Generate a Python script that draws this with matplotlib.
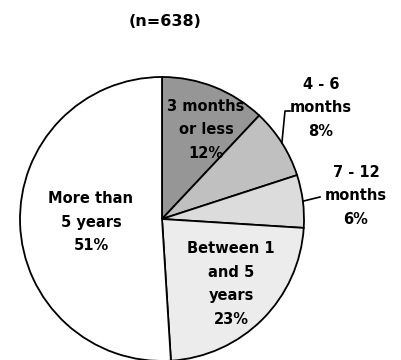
import numpy as np
import matplotlib.pyplot as plt

plt.rcParams['font.family'] = ['DejaVu Sans']

# Time categories, clockwise from 12 o'clock
labels = ['3 months\nor less', '4 - 6\nmonths', '7 - 12\nmonths',
          'Between 1\nand 5\nyears', 'More than\n5 years']
shares = [12, 8, 6, 23, 51]
colors = ['#969696', '#c0c0c0', '#dcdcdc', '#ececec', '#ffffff']
title = '(n=638)'

W, H = 402, 360
fig = plt.figure(figsize=(W / 100, H / 100), dpi=100)

# pie centre (px) and radius (px)
cx, cy, r = 162, 219, 142
ax = fig.add_axes([(cx - r) / W, 1 - (cy + r) / H, 2 * r / W, 2 * r / H])

wedges, _ = ax.pie(shares, colors=colors, startangle=90, counterclock=False,
                   radius=1.0,
                   wedgeprops=dict(edgecolor='black', linewidth=1.3))
for w in wedges:
    w.set_clip_on(False)
ax.set_xlim(-1, 1)
ax.set_ylim(-1, 1)
ax.set_aspect('auto')
ax.axis('off')


def px(x, y):
    # pixel position -> data coordinates of the pie axes
    return (x - cx) / r, (cy - y) / r


txt = dict(ha='center', va='center', fontsize=10.5, fontweight='bold',
           linespacing=1.72, color='black')

# label positions (px)
spots = [(206, 130), (321, 108), (356, 196), (231, 284), (91, 222)]
for lab, v, (x, y) in zip(labels, shares, spots):
    ax.text(*px(x, y), f'{lab}\n{v}%', **txt)

# leader lines for the two thin slices
mids = []
acc = 0
for v in shares:
    mids.append(np.deg2rad((acc + v / 2) * 3.6))
    acc += v

a = mids[1]
ex, ey = np.sin(a), np.cos(a)
x1, y1 = px(285, 111)
x2, y2 = px(290, 111)
ax.plot([ex, x1, x2], [ey, y1, y2], color='black', lw=1.2, clip_on=False)

a = mids[2]
ex, ey = np.sin(a), np.cos(a)
x1, y1 = px(320, 197)
ax.plot([ex, x1], [ey, y1], color='black', lw=1.2, clip_on=False)

fig.text(165 / W, 1 - 21 / H, title, ha='center', va='center',
         fontsize=11.5, fontweight='bold')

fig.savefig('out.png', dpi=100, facecolor='white')
